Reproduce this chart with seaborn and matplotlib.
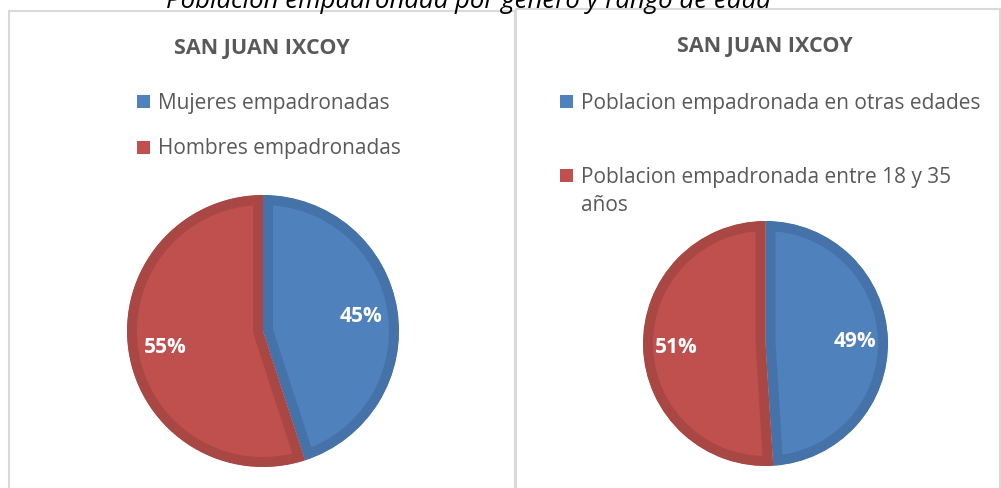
import matplotlib
matplotlib.use("Agg")
import matplotlib.pyplot as plt
from matplotlib.patches import Rectangle
import seaborn as sns

# ---- data ----
main_title = "Poblacion empadronada por genero y rango de edad"
panel_titles = ["SAN JUAN IXCOY", "SAN JUAN IXCOY"]
gender_labels = ["Mujeres empadronadas", "Hombres empadronadas"]
gender_values = [45, 55]
age_labels = ["Poblacion empadronada en otras edades",
              "Poblacion empadronada entre 18 y 35\naños"]
age_values = [49, 51]

face_colors = ["#4F81BD", "#C0504D"]
edge_colors = ["#4672AA", "#A94744"]

sns.set_theme(style="white")
plt.rcParams['font.family'] = ['Open Sans', 'DejaVu Sans']

W, H = 1001, 489
fig = plt.figure(figsize=(W / 100, H / 100), dpi=100)
fig.patch.set_facecolor("white")


def fx(x):
    return x / W


def fy(y):
    return 1 - y / H


# panel borders
border_col = "#D9D9D9"
fig.add_artist(Rectangle((fx(8.5), fy(500)), fx(515 - 8.5), (500 - 12) / H,
                         transform=fig.transFigure, fill=False,
                         edgecolor=border_col, linewidth=1.5))
fig.add_artist(Rectangle((fx(515.5), fy(500)), fx(1000 - 515.5), (500 - 10) / H,
                         transform=fig.transFigure, fill=False,
                         edgecolor=border_col, linewidth=1.5))

# main title (cut at top, as in the reference)
fig.text(fx(468), fy(7.5), main_title, ha="center", va="baseline",
         fontsize=18.5, fontstyle="italic", color="#000000")


def draw_pie(cx, cy, r, values, edge_px):
    ax = fig.add_axes([fx(cx - r), fy(cy + r), 2 * r / W, 2 * r / H])
    ax.axis("off")
    lw_pt = 2 * edge_px * 72 / 100
    wedges, texts, autotexts = ax.pie(
        values, colors=face_colors, startangle=90, counterclock=False,
        radius=1.0, autopct="%d%%", pctdistance=0.73,
        textprops=dict(color="white", fontsize=15, fontweight="bold"),
        wedgeprops=dict(linewidth=lw_pt, joinstyle="miter"))
    for w, ec in zip(wedges, edge_colors):
        w.set_edgecolor(ec)
        w.set_clip_path(w)
        w.set_clip_on(True)
    ax.set_xlim(-1, 1)
    ax.set_ylim(-1, 1)
    ax.set_aspect("equal")
    return ax


draw_pie(263, 332, 136, gender_values, 10)
draw_pie(765.5, 344.5, 122.5, age_values, 10)

# panel titles
for x, y, t in [(262, 48.5, panel_titles[0]), (765, 46.5, panel_titles[1])]:
    fig.text(fx(x), fy(y), t, ha="center", va="center", fontsize=15.5,
             fontweight="bold", color="#595959")


def legend(x, ys, labels, line_gap):
    for y, lab, c in zip(ys, labels, face_colors):
        fig.add_artist(Rectangle((fx(x), fy(y + 6)), 13 / W, 13 / H,
                                 transform=fig.transFigure, facecolor=c,
                                 edgecolor="none"))
        for i, ln in enumerate(lab.split("\n")):
            fig.text(fx(x + 21), fy(y + i * line_gap), ln, ha="left",
                     va="center", fontsize=15, color="#595959")


legend(137, [103, 149], gender_labels, 29)
legend(560, [103, 177], age_labels, 29)

fig.savefig("out.png", dpi=100, facecolor="white")
